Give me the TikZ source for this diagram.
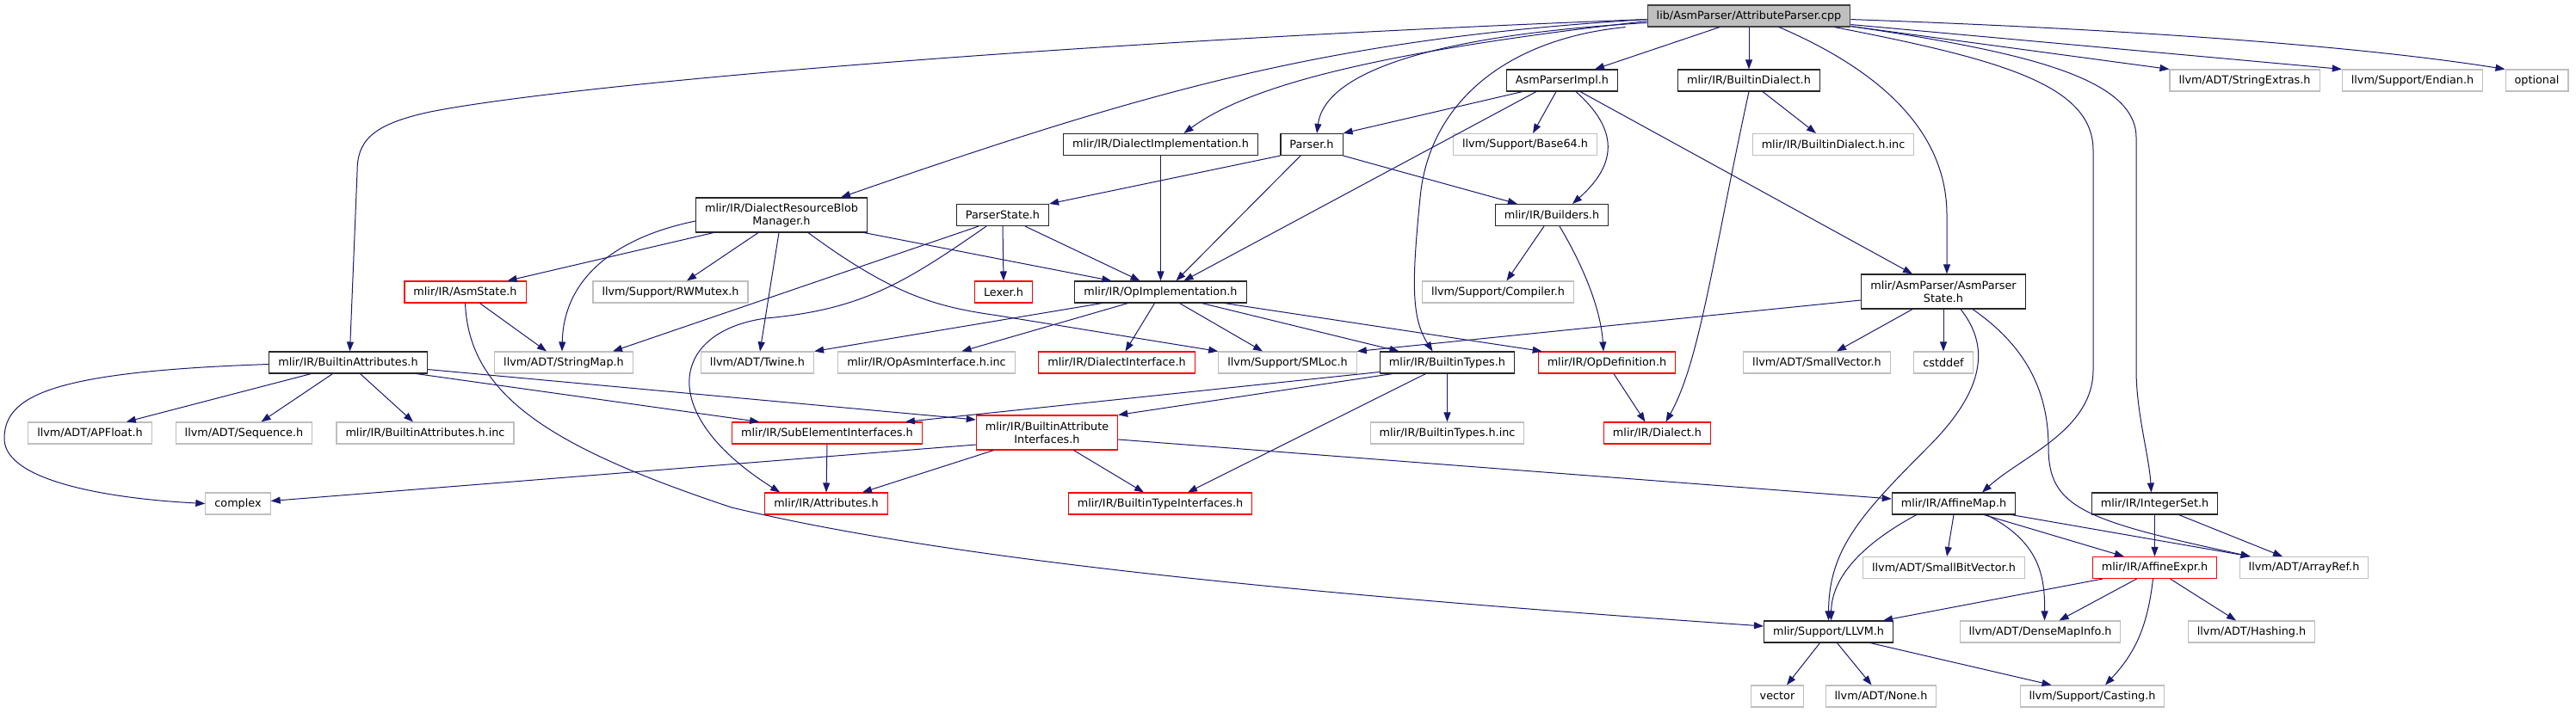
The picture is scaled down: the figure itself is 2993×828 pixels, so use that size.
\documentclass[tikz,border=0pt]{standalone}
\usepackage{fontspec}
\setmainfont{DejaVu Sans}
\usetikzlibrary{arrows.meta}
\definecolor{edgeblue}{HTML}{191970}
\definecolor{boxgray}{HTML}{BFBFBF}

\begin{document}
\begin{tikzpicture}[x=1pt,y=-1pt,>={Triangle[length=11pt,width=8pt]},
  every node/.style={font=\fontsize{12.8}{15}\selectfont,minimum height=25pt,inner xsep=10.5pt,inner ysep=1pt,line width=1.1pt,align=center,fill=white},
  proj/.style={draw=black!85},
  ext/.style={draw=boxgray},
  trunc/.style={draw=red},
  rootnode/.style={draw=black!75,fill=boxgray},
  dep/.style={->,draw=edgeblue,fill=none,line width=1pt}]
\useasboundingbox (0,0) rectangle (2993,828);

% files
\node[rootnode] (root) at (2032,18.5) {lib/AsmParser/AttributeParser.cpp};
\node[proj] (impl) at (1815,93.5) {AsmParserImpl.h};
\node[proj] (bdialect) at (2032,93.5) {mlir/IR/BuiltinDialect.h};
\node[ext] (strext) at (2608,93.5) {llvm/ADT/StringExtras.h};
\node[ext] (endian) at (2803,93.5) {llvm/Support/Endian.h};
\node[ext] (optional) at (2947.5,93.5) {optional};
\node[proj] (dimpl) at (1348.5,168) {mlir/IR/DialectImplementation.h};
\node[proj] (parser) at (1524,168) {Parser.h};
\node[ext] (base64) at (1772,168) {llvm/Support/Base64.h};
\node[ext] (bdinc) at (2130,168) {mlir/IR/BuiltinDialect.h.inc};
\node[proj,minimum height=40pt] (blob) at (908,250) {mlir/IR/DialectResourceBlob\\Manager.h};
\node[proj] (pstate) at (1165,250) {ParserState.h};
\node[proj] (builders) at (1803,250) {mlir/IR/Builders.h};
\node[trunc] (asmstate) at (540.5,339.5) {mlir/IR/AsmState.h};
\node[ext] (rwmutex) at (779,339.5) {llvm/Support/RWMutex.h};
\node[trunc] (lexer) at (1166,339.5) {Lexer.h};
\node[proj] (opimpl) at (1348.5,339.5) {mlir/IR/OpImplementation.h};
\node[ext] (compiler) at (1740.5,339.5) {llvm/Support/Compiler.h};
\node[proj,minimum height=40pt] (apstate) at (2258,339) {mlir/AsmParser/AsmParser\\State.h};
\node[proj] (battrs) at (404.5,421.5) {mlir/IR/BuiltinAttributes.h};
\node[ext] (strmap) at (655,421.5) {llvm/ADT/StringMap.h};
\node[ext] (twine) at (880,421.5) {llvm/ADT/Twine.h};
\node[ext] (opasminc) at (1076.5,421.5) {mlir/IR/OpAsmInterface.h.inc};
\node[trunc] (dinterface) at (1297.5,421.5) {mlir/IR/DialectInterface.h};
\node[ext] (smloc) at (1496,421.5) {llvm/Support/SMLoc.h};
\node[proj] (btypes) at (1681.5,421.5) {mlir/IR/BuiltinTypes.h};
\node[trunc] (opdef) at (1867,421.5) {mlir/IR/OpDefinition.h};
\node[ext] (smallvec) at (2111,421.5) {llvm/ADT/SmallVector.h};
\node[ext] (cstddef) at (2258,421.5) {cstddef};
\node[ext] (apfloat) at (104.5,503.5) {llvm/ADT/APFloat.h};
\node[ext] (sequence) at (283.5,503.5) {llvm/ADT/Sequence.h};
\node[ext] (battrsinc) at (494,503.5) {mlir/IR/BuiltinAttributes.h.inc};
\node[trunc] (subelem) at (961,503.5) {mlir/IR/SubElementInterfaces.h};
\node[trunc,minimum height=40pt] (bainterf) at (1216.5,503) {mlir/IR/BuiltinAttribute\\Interfaces.h};
\node[ext] (btypesinc) at (1681.5,503.5) {mlir/IR/BuiltinTypes.h.inc};
\node[trunc] (dialect) at (1925.5,503.5) {mlir/IR/Dialect.h};
\node[ext] (complex) at (276.5,585.5) {complex};
\node[trunc] (attrs) at (960,585.5) {mlir/IR/Attributes.h};
\node[trunc] (btinterf) at (1348,585.5) {mlir/IR/BuiltinTypeInterfaces.h};
\node[proj] (affmap) at (2270,585.5) {mlir/IR/AffineMap.h};
\node[proj] (intset) at (2503.5,585.5) {mlir/IR/IntegerSet.h};
\node[ext] (smallbv) at (2258.5,660) {llvm/ADT/SmallBitVector.h};
\node[trunc] (affexpr) at (2503.5,660) {mlir/IR/AffineExpr.h};
\node[ext] (arrayref) at (2677,660) {llvm/ADT/ArrayRef.h};
\node[proj] (llvm) at (2124.5,734.5) {mlir/Support/LLVM.h};
\node[ext] (densemap) at (2370.5,734.5) {llvm/ADT/DenseMapInfo.h};
\node[ext] (hashing) at (2616,734.5) {llvm/ADT/Hashing.h};
\node[ext] (vector) at (2065,809.5) {vector};
\node[ext] (none) at (2185.5,809.5) {llvm/ADT/None.h};
\node[ext] (casting) at (2431,809.5) {llvm/Support/Casting.h};

% includes of the .cpp file
\draw[dep] ([xshift=-34pt]root.south) -- ([xshift=38pt]impl.north);
\draw[dep] (root.south) -- (bdialect.north);
\draw[dep] ([yshift=-8pt]root.west) .. controls (1680,40) and (1540,80) .. ([xshift=6pt]parser.north);
\draw[dep] ([yshift=-6pt]root.west) .. controls (1600,60) and (1450,100) .. ([xshift=27pt]dimpl.north);
\draw[dep] ([yshift=-4pt]root.west) .. controls (1550,45) and (1350,100) .. ([xshift=69pt]blob.north);
\draw[dep] ([yshift=-4pt]root.west) .. controls (1200,50) and (650,100) .. (500,130)
  .. controls (430,145) and (415,165) .. (415,200) -- ([xshift=2pt]battrs.north);
\draw[dep] ([xshift=-25pt]root.south west) .. controls (1750,45) and (1660,120) .. (1650,230)
  .. controls (1640,330) and (1640,370) .. ([xshift=-17pt]btypes.north);
\draw[dep] ([xshift=35pt]root.south) .. controls (2180,80) and (2262,150) .. (2262,250) -- ([xshift=4pt]apstate.north);
\draw[dep] ([xshift=-19pt]root.south east) .. controls (2330,70) and (2432,100) .. (2432,175) -- (2432,430)
  .. controls (2432,500) and (2350,530) .. ([xshift=33pt]affmap.north);
\draw[dep] ([yshift=1pt]root.south east) .. controls (2350,60) and (2482,90) .. (2482,160) -- (2482,430)
  .. controls (2482,480) and (2497,530) .. ([xshift=-4pt]intset.north);
\draw[dep] ([yshift=1pt]root.south east) -- (strext.north west);
\draw[dep] ([yshift=3pt]root.south east) -- (endian.north west);
\draw[dep] ([yshift=9pt]root.south east) .. controls (2500,35) and (2750,55) .. (optional.north west);

% second level
\draw[dep] ([xshift=19pt]impl.south west) -- (parser.north east);
\draw[dep] ([xshift=-7pt]impl.south) -- ([xshift=9pt]base64.north);
\draw[dep] ([xshift=16pt]impl.south) .. controls (1880,150) and (1880,190) .. ([xshift=24pt]builders.north);
\draw[dep] ([xshift=21pt]impl.south) -- ([xshift=-36pt]apstate.north);
\draw[dep] ([xshift=-30pt]impl.south) -- ([xshift=27pt]opimpl.north);
\draw[dep] ([xshift=-13pt]parser.south) -- ([xshift=18pt]opimpl.north);
\draw[dep] (parser.south east) -- ([xshift=26pt]builders.north west);
\draw[dep] (parser.south west) -- (pstate.north east);
\draw[dep] (dimpl.south) -- (opimpl.north);
\draw[dep] ([xshift=16pt]bdialect.south) -- ([xshift=-20pt]bdinc.north);
\draw[dep] (bdialect.south) .. controls (1990,300) and (1975,420) .. ([xshift=10pt]dialect.north);

% DialectResourceBlobManager.h
\draw[dep] ([xshift=21pt]blob.south west) -- ([xshift=-22pt]asmstate.north east);
\draw[dep] ([yshift=-7pt]blob.west) .. controls (720,275) and (655,320) .. ([xshift=-2pt]strmap.north);
\draw[dep] ([xshift=-27pt]blob.south) -- ([xshift=19pt]rwmutex.north);
\draw[dep] ([xshift=-3pt]blob.south) -- ([xshift=3pt]twine.north);
\draw[dep] ([xshift=31pt]blob.south) .. controls (1040,345) and (1090,357) .. (1160,367) -- (smloc.north west);
\draw[dep] ([xshift=96pt]blob.south) -- ([xshift=43pt]opimpl.north west);

% ParserState.h
\draw[dep] (pstate.south) -- (lexer.north);
\draw[dep] ([xshift=26pt]pstate.south) -- ([xshift=-24pt]opimpl.north);
\draw[dep] ([xshift=-28pt]pstate.south) -- ([xshift=57pt]strmap.north);
\draw[dep] ([xshift=-19pt]pstate.south) .. controls (1050,330) and (1000,360) .. (890,370)
  .. controls (780,385) and (760,480) .. ([xshift=18pt]attrs.north west);

% AsmState.h
\draw[dep] ([xshift=17pt]asmstate.south) -- ([xshift=-20pt]strmap.north);
\draw[dep] (asmstate.south) .. controls (545,460) and (640,520) .. (850,590)
  .. controls (1100,650) and (1500,690) .. ([yshift=6.5pt]llvm.west);

% OpImplementation.h
\draw[dep] ([xshift=-68pt]opimpl.south) -- (twine.north east);
\draw[dep] ([xshift=-38pt]opimpl.south) -- ([xshift=41pt]opasminc.north);
\draw[dep] ([xshift=-7pt]opimpl.south) -- ([xshift=10pt]dinterface.north);
\draw[dep] ([xshift=22pt]opimpl.south) -- ([xshift=-29pt]smloc.north);
\draw[dep] ([xshift=48pt]opimpl.south) -- ([xshift=-56pt]btypes.north);
\draw[dep] ([xshift=74pt]opimpl.south) -- ([xshift=5pt]opdef.north west);

% Builders.h
\draw[dep] ([xshift=-9pt]builders.south) -- ([xshift=10pt]compiler.north);
\draw[dep] ([xshift=9pt]builders.south) .. controls (1840,310) and (1860,360) .. ([xshift=-4pt]opdef.north);

% AsmParserState.h
\draw[dep] ([yshift=-10pt]apstate.west) -- (smloc.north east);
\draw[dep] ([xshift=-36pt]apstate.south) -- ([xshift=23pt]smallvec.north);
\draw[dep] (apstate.south) -- (cstddef.north);
\draw[dep] ([xshift=20pt]apstate.south) .. controls (2310,400) and (2310,450) .. (2240,520)
  .. controls (2160,600) and (2125,640) .. (llvm.north);
\draw[dep] ([xshift=34pt]apstate.south) .. controls (2350,400) and (2380,450) .. (2380,520)
  .. controls (2380,590) and (2420,605) .. ([xshift=13pt]arrayref.north west);

% BuiltinAttributes.h
\draw[dep] ([xshift=-43pt]battrs.south) -- ([xshift=-30pt]apfloat.north east);
\draw[dep] ([xshift=-18pt]battrs.south) -- ([xshift=20pt]sequence.north);
\draw[dep] ([xshift=14pt]battrs.south) -- ([xshift=-14pt]battrsinc.north);
\draw[dep] ([yshift=-2pt]battrs.west) .. controls (60,432) and (5,460) .. (5,510)
  .. controls (5,560) and (130,580) .. (complex.west);
\draw[dep] ([xshift=-13pt]battrs.south east) -- ([xshift=32pt]subelem.north west);
\draw[dep] ([yshift=-8pt]battrs.east) -- ([yshift=15pt]bainterf.west);

\draw[dep] (subelem.south) -- (attrs.north);

% BuiltinAttributeInterfaces.h
\draw[dep] ([yshift=-14pt]bainterf.west) -- ([yshift=3pt]complex.east);
\draw[dep] ([xshift=-62pt]bainterf.south) -- ([xshift=42pt]attrs.north);
\draw[dep] ([xshift=31pt]bainterf.south) -- ([xshift=-19pt]btinterf.north);
\draw[dep] ([yshift=-8pt]bainterf.east) -- ([yshift=5.5pt]affmap.west);

% BuiltinTypes.h
\draw[dep] ([yshift=-11pt]btypes.west) -- ([xshift=-20pt]subelem.north east);
\draw[dep] ([xshift=15pt]btypes.south west) -- (bainterf.north east);
\draw[dep] (btypes.south) -- (btypesinc.north);
\draw[dep] ([xshift=-25pt]btypes.south) -- ([xshift=32pt]btinterf.north);

\draw[dep] ([xshift=8pt]opdef.south) -- ([xshift=-14pt]dialect.north);

% AffineMap.h and IntegerSet.h
\draw[dep] (affmap.south) -- ([xshift=3.5pt]smallbv.north);
\draw[dep] ([xshift=35pt]affmap.south) -- ([xshift=37pt]affexpr.north west);
\draw[dep] ([xshift=38pt]affmap.south) .. controls (2370,630) and (2376,670) .. ([xshift=5pt]densemap.north);
\draw[dep] ([xshift=67pt]affmap.south) -- ([xshift=13pt]arrayref.north west);
\draw[dep] ([xshift=29pt]affmap.south west) .. controls (2150,640) and (2128,680) .. ([xshift=3pt]llvm.north);
\draw[dep] (intset.south) -- (affexpr.north);
\draw[dep] ([xshift=28pt]intset.south) -- ([xshift=-25pt]arrayref.north);

% AffineExpr.h
\draw[dep] ([xshift=12pt]affexpr.south west) -- ([xshift=-12pt]llvm.north east);
\draw[dep] ([xshift=-21pt]affexpr.south) -- ([xshift=22pt]densemap.north);
\draw[dep] ([xshift=18pt]affexpr.south) -- ([xshift=-18pt]hashing.north);
\draw[dep] ([xshift=-2pt]affexpr.south) .. controls (2495,730) and (2480,760) .. ([xshift=15pt]casting.north);

% LLVM.h
\draw[dep] ([xshift=-10pt]llvm.south) -- ([xshift=11pt]vector.north);
\draw[dep] ([xshift=10pt]llvm.south) -- ([xshift=-11pt]none.north);
\draw[dep] ([xshift=-27pt]llvm.south east) -- ([xshift=37pt]casting.north west);
\end{tikzpicture}
\end{document}
